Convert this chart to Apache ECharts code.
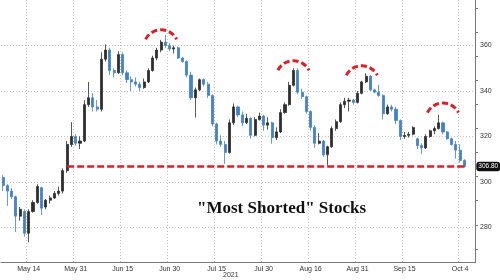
<!DOCTYPE html>
<html><head><meta charset="utf-8">
<script src="https://cdn.jsdelivr.net/npm/echarts@6/dist/echarts.min.js"></script>
<style>html,body{margin:0;padding:0;background:#fff}#c{width:500px;height:280px}</style>
</head><body><div id="c"></div>
<script>
// trading days (weekdays) 2021
const dates = [
 '05-06','05-07','05-10','05-11','05-12','05-13','05-14','05-17','05-18','05-19','05-20','05-21','05-24','05-25','05-26','05-27','05-28','05-31',
 '06-01','06-02','06-03','06-04','06-07','06-08','06-09','06-10','06-11','06-14','06-15','06-16','06-17','06-18','06-21','06-22','06-23','06-24','06-25','06-28','06-29','06-30',
 '07-01','07-02','07-05','07-06','07-07','07-08','07-09','07-12','07-13','07-14','07-15','07-16','07-19','07-20','07-21','07-22','07-23','07-26','07-27','07-28','07-29','07-30',
 '08-02','08-03','08-04','08-05','08-06','08-09','08-10','08-11','08-12','08-13','08-16','08-17','08-18','08-19','08-20','08-23','08-24','08-25','08-26','08-27','08-30','08-31',
 '09-01','09-02','09-03','09-06','09-07','09-08','09-09','09-10','09-13','09-14','09-15','09-16','09-17','09-20','09-21','09-22','09-23','09-24','09-27','09-28','09-29','09-30',
 '10-01','10-04','10-05','10-06','10-07'
];
const tickLabels = {'05-14':'May 14','05-31':'May 31','06-15':'Jun 15','06-30':'Jun 30','07-15':'Jul 15','07-30':'Jul 30','08-16':'Aug 16','08-31':'Aug 31','09-15':'Sep 15','10-04':'Oct 4'};
const minorTickDates = ['05-06','05-21','06-07','06-22','07-07','07-22','08-06','08-23','09-07','09-22'];
const yearLabel = '2021';
const yLabels = [280, 300, 320, 340, 360];

const opens  = [302,298.5,296,293.5,285,287,277.5,287,291,297.5,289,292,293,295,296,305,316.5,320,317,318,334,337,333,332,354,358,349,348,356,348,345,344,343,341.5,344,349,354.5,358,361.5,360,358.5,359,354.5,353,347,337,340.5,345,343,338,325.5,318,316.5,313,326,333,329.5,326,328,320.5,327.5,329,325,326,319.5,322,330.5,334,342.5,349,339.5,337.5,331,324,317,318,312,315.5,323.5,326.5,334,335.5,336,335,339,344,346.5,340.5,339.5,338,330,333,332,327,320,320.5,321,319,316,315,320,322.5,323.5,326,322,319,316.5,314,309.5];
const highs  = [303,299,297.5,294,289,288,288,292,299,298,292.5,294,296,298,306,318,326.3,321,320,336,344,339,336,357,360.5,359,350,357.5,357,349,346.5,346,344,345.5,350,355.5,359,362.5,364.6,361,360,359.5,355,353.5,348.5,341.5,345.5,345.5,344,338.5,326,320.5,318,327.5,334.5,333.5,331,330,328.5,328.5,330.5,329.5,328.5,326.5,324,332,335,344,350,350,341,338,331.5,325,321.5,318.5,316,324.5,327.5,335,337,337,336.5,340,344.5,347.8,347,341,342.8,338.5,334,334,333,327.5,322,322,324.5,319.5,317,321,323,324.5,329.5,326.5,322.5,319.5,318,316.5,310];
const lows   = [296,289.5,292.5,278,283,276,273.5,286.5,290.5,285.5,288,290.5,292.5,294,295,304,315.5,316,314.5,317.5,333,331,331,331,353,347,346,347.5,347,343.5,340,342,340,341,343.5,348.5,353.5,357,359,357.5,356.5,354,352.5,346,336,328.3,340,342,337,324.5,316.5,315.5,308,312.5,325,328.5,324.5,325.5,319,320,327,322.5,323,316.8,318.5,321.5,330,333.5,342,338.5,336.5,330,322.5,315,316.5,311,307.2,315,322.5,326,332.5,331,334,334.5,338.5,343.5,340,339,337.5,327.5,329.5,331,325.5,318.5,319,319.5,320.5,314.5,312.2,314.5,319.5,321,323,321,318.5,316,310.2,308.5,306.3];
const closes = [298.5,296,293.5,285,288,277.5,287,291,298,288.5,292,293,295,296,305,316.5,320,317,318,334,337,333,332,354,358,349,348,356,348,345,344,343,341.5,344,349,354.5,358,361.5,360,358.5,359,354.5,353,347,337,340.5,345,343,338,325.5,318,316.5,313,326,333,329.5,326,328,320.5,327.5,329,325,326,319.5,322,330.5,334,342.5,349,339.5,337.5,331,324,317,318,312,315.5,323.5,326.5,334,335.5,336,335,339,344,346.5,340.5,339.5,338,330,333,332,327,320,320.5,321,324,316,315,320,322.5,323.5,326,322,319,316.5,314,309.5,306.8];

// annotations
const supportLevel = 306.8;
const supportFrom = 15, supportTo = 108;
const peakMarks = [[37, 366.9], [68, 353.3], [84, 351.1], [103, 334.7]];

const candles = opens.map((o, i) => [o, closes[i], lows[i], highs[i]]);
const lastClose = closes[closes.length - 1];

const RED = '#dc1f26';
const GRID_L = 1, GRID_R = 25;
const chart = echarts.init(document.getElementById('c'), null, {renderer: 'canvas'});
const arcR = 17.4, arcT = 1.1;

chart.setOption({
  animation: false,
  backgroundColor: '#fff',
  textStyle: {fontFamily: 'Liberation Sans, Arial, sans-serif'},
  title: {
    text: '"Most Shorted" Stocks', left: 197, top: 200, padding: 0,
    textStyle: {fontFamily: 'Liberation Serif, serif', fontWeight: 'bold', fontSize: 17, color: '#111'}
  },
  graphic: [{
    type: 'text', left: 223, top: 272,
    style: {text: yearLabel, fontSize: 7, fill: '#333', fontFamily: 'Liberation Sans, Arial, sans-serif'}
  }],
  grid: [
    {left: GRID_L, right: GRID_R, top: 0, bottom: 17.3},
    {left: GRID_L, right: GRID_R, top: -16, bottom: 7},
    {left: GRID_L, right: GRID_R, top: 8.08, bottom: 31.1}
  ],
  xAxis: [
    {
      gridIndex: 0, type: 'category', data: dates,
      axisLine: {lineStyle: {color: '#777', width: 1}},
      axisTick: {alignWithLabel: true, length: 2, lineStyle: {color: '#777'},
        interval: (i, v) => tickLabels[v] !== undefined || minorTickDates.indexOf(v) >= 0},
      axisLabel: {interval: (i, v) => tickLabels[v] !== undefined, formatter: v => tickLabels[v] || '',
        fontSize: 7, color: '#333', margin: 3},
      splitLine: {show: true, interval: (i, v) => tickLabels[v] !== undefined,
        lineStyle: {color: '#c4c4c4', type: [1, 2], width: 1}}
    },
    {gridIndex: 1, type: 'category', data: dates, show: false},
    {gridIndex: 2, type: 'category', data: dates, show: false}
  ],
  yAxis: [
    {
      gridIndex: 0, type: 'value', position: 'right', min: 264.3, max: 373.3,
      axisLine: {show: true, lineStyle: {color: '#777', width: 1}},
      axisTick: {show: false}, axisLabel: {show: false}, splitLine: {show: false}
    },
    {
      gridIndex: 1, type: 'value', position: 'right', min: 260, max: 380, interval: 20,
      axisLine: {show: false}, axisTick: {show: false},
      axisLabel: {fontSize: 7, color: '#333', margin: 5,
        formatter: v => yLabels.indexOf(v) >= 0 ? String(v) : ''},
      splitLine: {show: true, showMinLine: false, showMaxLine: false,
        lineStyle: {color: '#c4c4c4', type: [1, 2], width: 1}}
    },
    {
      gridIndex: 2, type: 'value', position: 'right', min: 270, max: 370, interval: 10,
      axisLine: {show: false},
      axisTick: {show: true, inside: false, length: 3, lineStyle: {color: '#777'}},
      axisLabel: {show: false}, splitLine: {show: false}
    }
  ],
  series: [
    {
      type: 'candlestick', xAxisIndex: 1, yAxisIndex: 1, data: candles,
      barWidth: 2.6,
      itemStyle: {color: '#2e2e2e', color0: '#4282c8', borderColor: '#2e2e2e', borderColor0: '#4282c8', borderWidth: 0.8},
      markLine: {
        silent: true, symbol: 'none', animation: false,
        data: [
          [{coord: [supportFrom, supportLevel], lineStyle: {color: RED, width: 2.5, type: [7, 3]},
            label: {show: true, position: 'end', distance: 12, formatter: lastClose.toFixed(2),
             color: '#fff', backgroundColor: '#111', fontSize: 6.5, padding: [1.5, 2, 1, 2], borderRadius: 3}},
           {coord: [supportTo, supportLevel]}]
        ]
      }
    },
    {
      type: 'custom', xAxisIndex: 1, yAxisIndex: 1, data: peakMarks, silent: true, z: 5,
      renderItem: (params, api) => {
        const p = api.coord([api.value(0), api.value(1)]);
        return {
          type: 'arc',
          shape: {cx: p[0], cy: p[1] + arcR, r: arcR, startAngle: -Math.PI / 2 - arcT, endAngle: -Math.PI / 2 + arcT, clockwise: true},
          style: {stroke: RED, fill: 'none', lineWidth: 3, lineDash: [6, 3]}
        };
      }
    }
  ]
});
</script></body></html>
